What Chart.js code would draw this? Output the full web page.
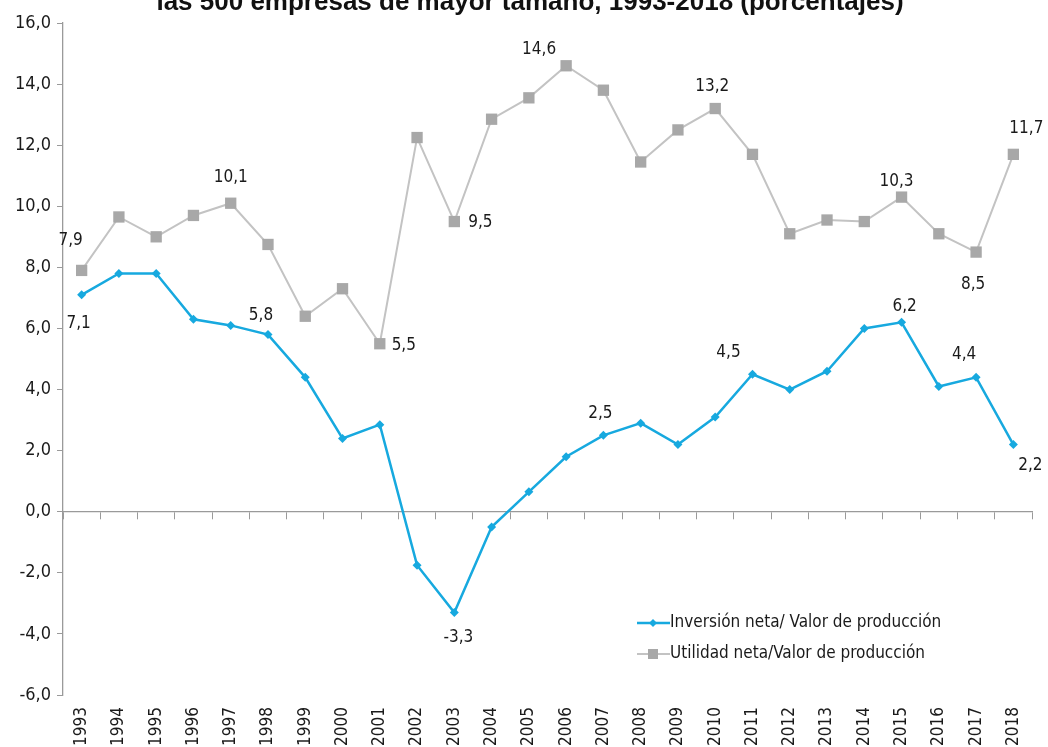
<!DOCTYPE html>
<html>
<head>
<meta charset="utf-8">
<script src="https://cdn.jsdelivr.net/npm/chart.js@4/dist/chart.umd.min.js"></script>
<style>
  html, body { margin: 0; padding: 0; background: #fff; }
  #wrap { width: 1048px; height: 747px; }
</style>
</head>
<body>
<div id="wrap"><canvas id="chart"></canvas></div>
<script>
const years = ["1993", "1994", "1995", "1996", "1997", "1998", "1999", "2000", "2001", "2002",
  "2003", "2004", "2005", "2006", "2007", "2008", "2009", "2010", "2011", "2012",
  "2013", "2014", "2015", "2016", "2017", "2018"];
const inversion = [7.1, 7.8, 7.8, 6.3, 6.1, 5.8, 4.4, 2.4, 2.85, -1.75,
  -3.3, -0.5, 0.65, 1.8, 2.5, 2.9, 2.2, 3.1, 4.5, 4.0,
  4.6, 6.0, 6.2, 4.1, 4.4, 2.2];
const utilidad = [7.9, 9.65, 9.0, 9.7, 10.1, 8.75, 6.4, 7.3, 5.5, 12.25,
  9.5, 12.85, 13.55, 14.6, 13.8, 11.45, 12.5, 13.2, 11.7, 9.1,
  9.55, 9.5, 10.3, 9.1, 8.5, 11.7];
const yTicks = [-6, -4, -2, 0, 2, 4, 6, 8, 10, 12, 14, 16];
const seriesNames = ["Inversión neta/ Valor de producción", "Utilidad neta/Valor de producción"];
const titleText = "las 500 empresas de mayor tamaño, 1993-2018 (porcentajes)";

const FONT = "'Liberation Sans Narrow', 'Arial Narrow', 'DejaVu Sans Condensed', sans-serif";
const BLUE = "#17a9df";
const GRAY = "#c3c3c3";
const GRAY_PT = "#a8a8a8";

// which points get a value label, and where it sits relative to the point
const labelSpots = [
  [{ i: 0, dx: -3, dy: 29 }, { i: 5, dx: -7, dy: -19 }, { i: 10, dx: 4, dy: 25 },
   { i: 14, dx: -3, dy: -22 }, { i: 18, dx: -24, dy: -22 }, { i: 22, dx: 3, dy: -16 },
   { i: 24, dx: -12, dy: -23 }, { i: 25, dx: 17, dy: 21 }],
  [{ i: 0, dx: -11, dy: -30 }, { i: 4, dx: 0, dy: -26 }, { i: 8, dx: 24, dy: 2 },
   { i: 10, dx: 26, dy: 1 }, { i: 13, dx: -27, dy: -16 }, { i: 17, dx: -3, dy: -22 },
   { i: 22, dx: -5, dy: -16 }, { i: 24, dx: -3, dy: 32 }, { i: 25, dx: 13, dy: -26 }]
];

const fmt = v => v.toFixed(1).replace(".", ",");

const extras = {
  id: "extras",
  afterDatasetsDraw(chart) {
    const ctx = chart.ctx;
    ctx.save();
    // title, clipped at the top like the source
    ctx.fillStyle = "#111";
    ctx.font = "bold 26px 'Liberation Sans', Arial, sans-serif";
    ctx.textAlign = "center";
    ctx.textBaseline = "alphabetic";
    ctx.fillText(titleText, 530, 10);

    // value labels
    ctx.font = "17px " + FONT;
    ctx.fillStyle = "#1a1a1a";
    ctx.textBaseline = "middle";
    labelSpots.forEach((spots, d) => {
      const meta = chart.getDatasetMeta(d);
      const vals = chart.data.datasets[d].data;
      spots.forEach(s => {
        const p = meta.data[s.i];
        ctx.fillText(fmt(vals[s.i]), p.x + s.dx, p.y + s.dy);
      });
    });

    // legend
    const lx = 637, ly = [623, 654];
    chart.data.datasets.forEach((ds, d) => {
      const y = ly[d];
      ctx.strokeStyle = ds.borderColor;
      ctx.lineWidth = ds.borderWidth;
      ctx.beginPath();
      ctx.moveTo(lx, y);
      ctx.lineTo(lx + 33, y);
      ctx.stroke();
      ctx.fillStyle = ds.pointBackgroundColor;
      if (d === 0) {
        ctx.beginPath();
        ctx.moveTo(lx + 16, y - 4); ctx.lineTo(lx + 20, y);
        ctx.lineTo(lx + 16, y + 4); ctx.lineTo(lx + 12, y);
        ctx.closePath(); ctx.fill();
      } else {
        ctx.fillRect(lx + 11, y - 5, 10, 10);
      }
      ctx.fillStyle = "#1a1a1a";
      ctx.textAlign = "left";
      ctx.fillText(ds.label, lx + 33, y);
    });
    ctx.restore();
  }
};

new Chart(document.getElementById("chart"), {
  type: "line",
  data: {
    labels: years,
    datasets: [
      {
        label: seriesNames[0],
        data: inversion,
        borderColor: BLUE,
        borderWidth: 2.5,
        pointStyle: "rectRot",
        pointRadius: 4.5,
        pointBackgroundColor: BLUE,
        pointBorderWidth: 0,
        tension: 0
      },
      {
        label: seriesNames[1],
        data: utilidad,
        borderColor: GRAY,
        borderWidth: 2,
        pointStyle: "rect",
        pointRadius: 8,
        pointBackgroundColor: GRAY_PT,
        pointBorderWidth: 0,
        tension: 0
      }
    ]
  },
  options: {
    responsive: true,
    maintainAspectRatio: false,
    animation: false,
    layout: { padding: { top: 23, right: 16, left: 0, bottom: 0 } },
    plugins: { legend: { display: false }, title: { display: false }, tooltip: { enabled: false } },
    scales: {
      x: {
        type: "category",
        offset: true,
        border: { display: false },
        grid: { display: false },
        ticks: {
          minRotation: 90, maxRotation: 90, autoSkip: false,
          color: "#1a1a1a", font: { family: FONT, size: 17 }, padding: 4
        },
        afterFit: s => { s.height = 52; }
      },
      x0: {
        type: "category",
        labels: years,
        position: { y: 0 },
        offset: true,
        border: { display: true, color: "#9a9a9a", width: 1.3 },
        grid: { display: true, offset: true, drawOnChartArea: false, drawTicks: true, tickLength: 7, color: "#9a9a9a" },
        ticks: { display: false }
      },
      y: {
        min: -6, max: 16,
        afterBuildTicks: s => { s.ticks = yTicks.map(v => ({ value: v })); },
        border: { display: true, color: "#9a9a9a", width: 1.3 },
        grid: { drawOnChartArea: false, drawTicks: true, tickLength: 6, color: "#9a9a9a" },
        ticks: {
          color: "#1a1a1a", font: { family: FONT, size: 18 }, padding: 6,
          callback: v => fmt(v)
        },
        afterFit: s => { s.width = 63; }
      }
    }
  },
  plugins: [extras]
});
</script>
</body>
</html>
